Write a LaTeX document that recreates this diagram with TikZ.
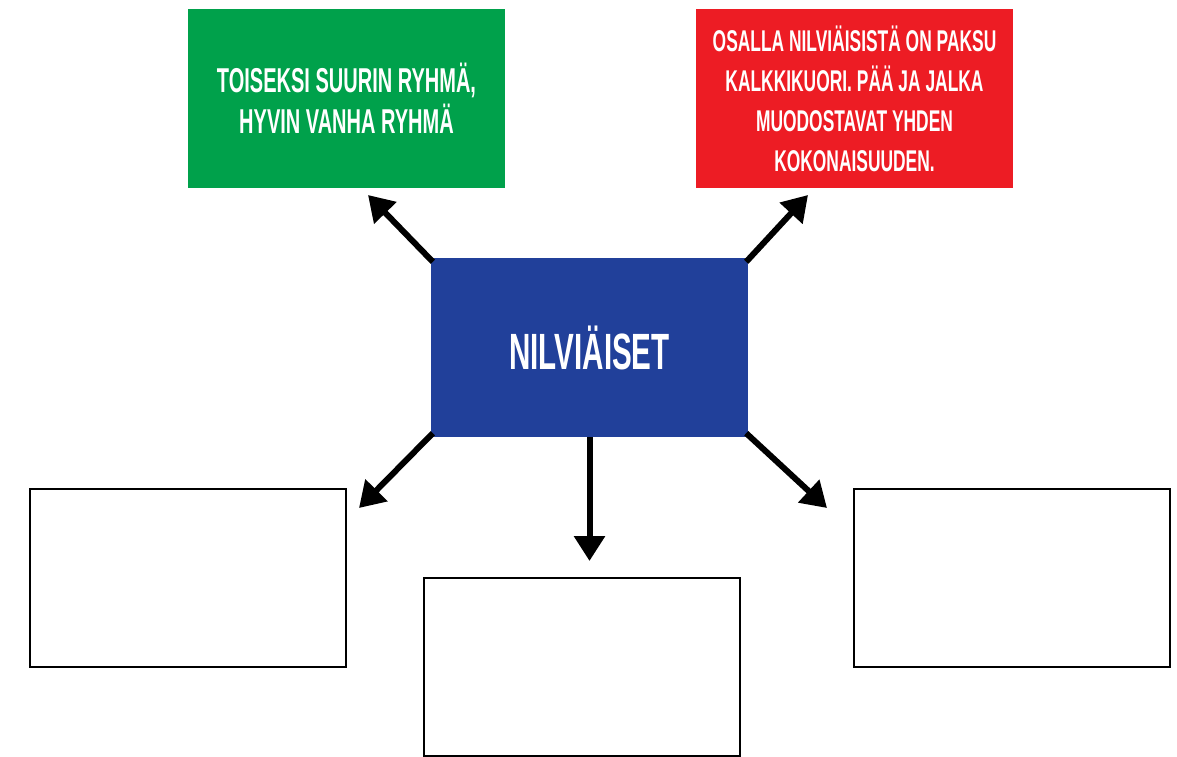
\documentclass[tikz,border=0pt]{standalone}
\usepackage{fontspec}
\setmainfont[FakeStretch=0.58]{Liberation Sans}
\usetikzlibrary{arrows.meta}
\definecolor{boxgreen}{HTML}{00A14B}
\definecolor{boxred}{HTML}{ED1C24}
\definecolor{boxblue}{HTML}{21409A}
\begin{document}
\begin{tikzpicture}[x=1pt,y=-1pt,
  filled/.style={rectangle,inner sep=0pt,minimum width=317pt,minimum height=179pt,text=white,align=center,font=\bfseries},
  blank/.style={rectangle,draw=black,line width=2pt,fill=white,inner sep=0pt,minimum width=316pt,minimum height=178pt},
  conn/.style={line width=6pt,-{Triangle[length=25pt,width=30pt]}}]
\useasboundingbox (0,0) rectangle (1177,757);
\node[filled,fill=boxgreen,font=\bfseries\fontsize{34.5}{41}\selectfont] (green) at (346.5,98.5) {TOISEKSI SUURIN RYHMÄ,\\HYVIN VANHA RYHMÄ};
\node[filled,fill=boxred,font=\bfseries\fontsize{30}{40}\selectfont] (red) at (854.5,98.5) {OSALLA NILVIÄISISTÄ ON PAKSU\\KALKKIKUORI. PÄÄ JA JALKA\\MUODOSTAVAT YHDEN\\KOKONAISUUDEN.};
\node[filled,fill=boxblue,font=\bfseries\fontsize{51}{60}\selectfont] (blue) at (589.5,347.5) {NILVIÄISET};
\node[blank] (left) at (188,578) {};
\node[blank] (bottom) at (581.5,667) {};
\node[blank] (right) at (1012,578) {};
\coordinate (tipgreen) at (368,195);
\coordinate (tipred) at (808,195);
\coordinate (tipleft) at (359,508);
\coordinate (tipbottom) at (589.5,561);
\coordinate (tipright) at (827,508);
\draw[conn] ([shift={(2,4)}]blue.north west) -- (tipgreen);
\draw[conn] ([shift={(-2,4)}]blue.north east) -- (tipred);
\draw[conn] ([shift={(2,-4)}]blue.south west) -- (tipleft);
\draw[conn] (blue.south) -- (tipbottom);
\draw[conn] ([shift={(-2,-4)}]blue.south east) -- (tipright);
\end{tikzpicture}
\end{document}
